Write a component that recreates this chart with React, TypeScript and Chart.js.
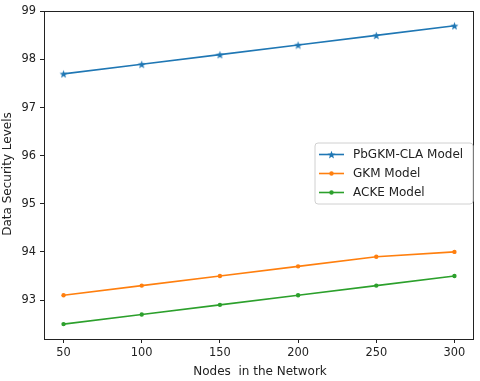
import React, { useEffect, useRef } from "react";
import { Chart, registerables } from "chart.js";

Chart.register(...registerables);

const nodes = [50, 100, 150, 200, 250, 300];
const pbgkm = [97.7, 97.9, 98.1, 98.3, 98.5, 98.7];
const gkm = [93.1, 93.3, 93.5, 93.7, 93.9, 94.0];
const acke = [92.5, 92.7, 92.9, 93.1, 93.3, 93.5];
const yTicks = [93, 94, 95, 96, 97, 98, 99];
const seriesNames = ["PbGKM-CLA Model", "GKM Model", "ACKE Model"];
const colors = ["#1f77b4", "#ff7f0e", "#2ca02c"];
const xTitle = "Nodes  in the Network";
const yTitle = "Data Security Levels";

const FONT = "DejaVu Sans";
const FS = 11.4;
const FT = 12;

function makeStar(color: string, size: number): HTMLCanvasElement {
  const c = document.createElement("canvas");
  c.width = size;
  c.height = size;
  const ctx = c.getContext("2d")!;
  const cx = size / 2, cy = size / 2;
  const R = size / 2 - 0.3, r = R * 0.42;
  ctx.beginPath();
  for (let i = 0; i < 10; i++) {
    const rad = i % 2 === 0 ? R : r;
    const a = -Math.PI / 2 + (i * Math.PI) / 5;
    const x = cx + rad * Math.cos(a);
    const y = cy + rad * Math.sin(a) + size * 0.06;
    if (i === 0) ctx.moveTo(x, y);
    else ctx.lineTo(x, y);
  }
  ctx.closePath();
  ctx.fillStyle = color;
  ctx.fill();
  return c;
}

export default function App() {
  const ref = useRef<HTMLCanvasElement>(null);
  useEffect(() => {
    document.body.style.margin = "0";
    const star = makeStar(colors[0], 9);
    const mk = (vals: number[]) => vals.map((v, i) => ({ x: nodes[i], y: v }));
    const markers: any[] = [star, "circle", "circle"];

    const decor = {
      id: "decor",
      afterDraw(chart: any) {
        const { ctx, chartArea: a } = chart;
        ctx.save();
        ctx.strokeStyle = "#222";
        ctx.lineWidth = 1;
        ctx.strokeRect(Math.round(a.left) + 0.5, Math.round(a.top) + 0.5, Math.round(a.right - a.left) - 1, Math.round(a.bottom - a.top));
        ctx.fillStyle = "#222";
        ctx.font = `${FT}px "${FONT}"`;
        ctx.textAlign = "center";
        ctx.textBaseline = "middle";
        ctx.fillText(xTitle, (a.left + a.right) / 2 + 1, 372);
        ctx.save();
        ctx.translate(8, 174);
        ctx.rotate(-Math.PI / 2);
        ctx.fillText(yTitle, 0, 0);
        ctx.restore();
        // legend
        const lx = 315, ly = 143, lw = 158, lh = 61;
        ctx.beginPath();
        const rr = 3;
        ctx.moveTo(lx + rr, ly);
        ctx.arcTo(lx + lw, ly, lx + lw, ly + lh, rr);
        ctx.arcTo(lx + lw, ly + lh, lx, ly + lh, rr);
        ctx.arcTo(lx, ly + lh, lx, ly, rr);
        ctx.arcTo(lx, ly, lx + lw, ly, rr);
        ctx.closePath();
        ctx.fillStyle = "rgba(255,255,255,0.85)";
        ctx.fill();
        ctx.strokeStyle = "#d0d0d0";
        ctx.lineWidth = 1;
        ctx.stroke();
        seriesNames.forEach((name, i) => {
          const y = 154.5 + i * 19;
          ctx.strokeStyle = colors[i];
          ctx.lineWidth = 1.6;
          ctx.beginPath();
          ctx.moveTo(319, y);
          ctx.lineTo(344, y);
          ctx.stroke();
          if (i === 0) {
            ctx.drawImage(star, 331.5 - 4.5, y - 4.5);
          } else {
            ctx.fillStyle = colors[i];
            ctx.beginPath();
            ctx.arc(331.5, y, 2.2, 0, Math.PI * 2);
            ctx.fill();
          }
          ctx.fillStyle = "#222";
          ctx.textAlign = "left";
          ctx.fillText(name, 353, y);
        });
        ctx.restore();
      },
    };

    const chart = new Chart(ref.current!, {
      type: "line",
      data: {
        datasets: [pbgkm, gkm, acke].map((vals, i) => ({
          label: seriesNames[i],
          data: mk(vals),
          borderColor: colors[i],
          backgroundColor: colors[i],
          borderWidth: 1.6,
          pointStyle: markers[i],
          pointRadius: i === 0 ? 4.5 : 2.2,
          pointBorderWidth: 0,
          pointHoverRadius: 3,
          tension: 0,
          fill: false,
        })),
      },
      options: {
        animation: false,
        responsive: false,
        devicePixelRatio: 1,
        layout: { padding: { top: 8, right: 6, left: 0, bottom: 0 } },
        plugins: { legend: { display: false }, tooltip: { enabled: false } },
        scales: {
          x: {
            type: "linear",
            min: 37.5,
            max: 312.5,
            afterBuildTicks(scale: any) {
              scale.ticks = nodes.map((v) => ({ value: v }));
            },
            afterFit(scale: any) {
              scale.height = 42;
            },
            grid: { drawOnChartArea: false, drawTicks: true, tickLength: 4, color: "#222" },
            border: { display: false },
            ticks: { color: "#222", font: { family: FONT, size: FS }, padding: 3, maxRotation: 0 },
          },
          y: {
            type: "linear",
            min: 92.19,
            max: 99.01,
            afterBuildTicks(scale: any) {
              scale.ticks = yTicks.map((v) => ({ value: v }));
            },
            afterFit(scale: any) {
              scale.width = 44;
            },
            grid: { drawOnChartArea: false, drawTicks: true, tickLength: 4, color: "#222" },
            border: { display: false },
            ticks: { color: "#222", font: { family: FONT, size: FS }, padding: 4 },
          },
        },
      },
      plugins: [decor],
    } as any);
    return () => chart.destroy();
  }, []);
  return <canvas ref={ref} width={480} height={381} style={{ display: "block" }} />;
}
